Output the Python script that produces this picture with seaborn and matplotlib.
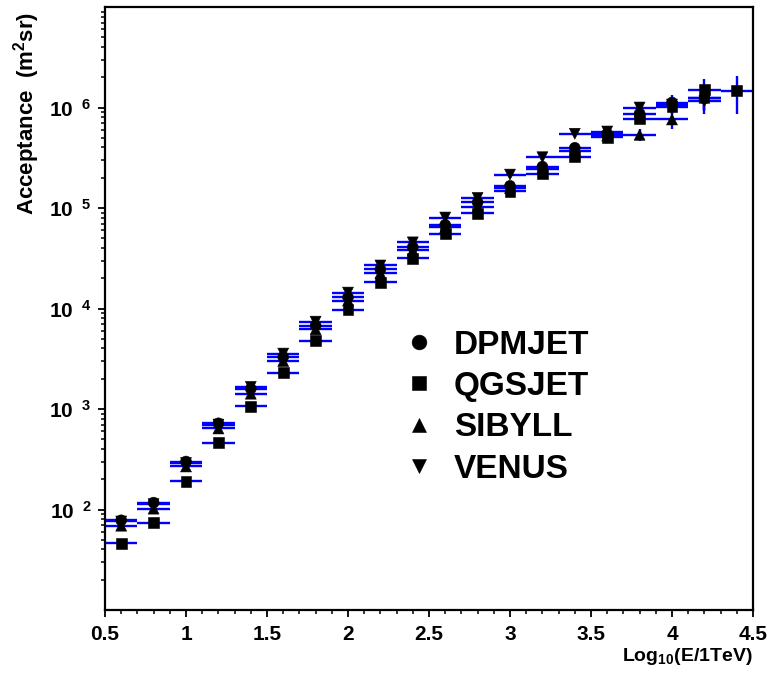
import numpy as np
import pandas as pd
import matplotlib
matplotlib.use("Agg")
import matplotlib.pyplot as plt
import seaborn as sns
from matplotlib.ticker import FixedLocator, LogLocator, MultipleLocator, FuncFormatter, NullFormatter

# log10(E / 1 TeV) bin centres
log_energy = [0.6, 0.8, 1.0, 1.2, 1.4, 1.6, 1.8, 2.0, 2.2, 2.4,
              2.6, 2.8, 3.0, 3.2, 3.4, 3.6, 3.8, 4.0, 4.2, 4.4]
bin_half_width = 0.1

# acceptance (m^2 sr) per hadronic interaction model
dpmjet = [78, 117, 300, 720, 1590, 3300, 6770, 12900, 24500, 40800,
          68000, 114000, 166000, 258000, 397000, 550000, 870000, 1.12e6, 1.23e6]
qgsjet = [46, 74, 190, 463, 1060, 2300, 4800, 9700, 18300, 31700,
          55700, 89000, 147000, 218000, 323000, 505000, 775000, 1.02e6, 1.5e6, 1.47e6]
sibyll = [69, 102, 268, 640, 1420, 3000, 6200, 12000, 22500, 37800,
          64500, 102000, 158000, 245000, 372000, 525000, 535000, 760000, 1.25e6]
venus = [76, 113, 290, 700, 1660, 3560, 7400, 14400, 26800, 45500,
         80400, 126000, 215000, 320000, 548000, 577000, 1.0e6, 1.07e6, 1.16e6]

# statistical uncertainties (m^2 sr)
dpmjet_err = [3, 4, 8, 18, 35, 70, 130, 250, 450, 750,
              1300, 2200, 3500, 6000, 10000, 15000, 40000, 200000, 300000]
qgsjet_err = [2, 3, 6, 13, 25, 50, 100, 200, 350, 600,
              1100, 1800, 3000, 5000, 8000, 14000, 35000, 120000, 400000, 600000]
sibyll_err = [3, 4, 8, 17, 33, 65, 120, 240, 430, 700,
              1200, 2000, 3300, 5500, 9000, 14000, 70000, 150000, 300000]
venus_err = [3, 4, 8, 17, 35, 75, 140, 280, 500, 850,
             1500, 2400, 4000, 7000, 12000, 15000, 80000, 200000, 300000]

models = ["DPMJET", "QGSJET", "SIBYLL", "VENUS"]
values = {"DPMJET": dpmjet, "QGSJET": qgsjet, "SIBYLL": sibyll, "VENUS": venus}
errors = {"DPMJET": dpmjet_err, "QGSJET": qgsjet_err, "SIBYLL": sibyll_err, "VENUS": venus_err}
marker_map = {"DPMJET": "o", "QGSJET": "s", "SIBYLL": "^", "VENUS": "v"}

frames = []
for m in models:
    n = len(values[m])
    frames.append(pd.DataFrame({"logE": log_energy[:n], "acceptance": values[m],
                                "err": errors[m], "model": m}))
df = pd.concat(frames, ignore_index=True)

sns.set_theme(style="ticks")
plt.rcParams.update({
    "font.family": ["Liberation Sans", "DejaVu Sans"],
    "font.weight": "bold",
    "mathtext.fontset": "custom",
    "mathtext.rm": "Liberation Sans:bold",
    "mathtext.bf": "Liberation Sans:bold",
    "mathtext.it": "Liberation Sans:bold",
    "axes.linewidth": 1.6,
    "axes.edgecolor": "black",
    "text.color": "black",
    "axes.labelcolor": "black",
    "xtick.color": "black",
    "ytick.color": "black",
})

fig = plt.figure(figsize=(7.71, 6.73), dpi=100)
ax = fig.add_axes([105 / 771, 63 / 673, 648 / 771, 603 / 673])

for m in models:
    sub = df[df.model == m]
    ax.errorbar(sub.logE, sub.acceptance, xerr=bin_half_width, yerr=sub.err,
                fmt="none", ecolor="#0000ff", elinewidth=1.7, capsize=0, zorder=2)

sns.scatterplot(data=df, x="logE", y="acceptance", style="model", style_order=models,
                markers=marker_map, color="black", edgecolor="black", linewidth=0.4,
                s=62, ax=ax, zorder=3, legend=True)

ax.set_yscale("log")
ax.set_xlim(0.5, 4.5)
ax.set_ylim(10, 1e7)

ax.yaxis.set_major_locator(FixedLocator([1e2, 1e3, 1e4, 1e5, 1e6]))
ax.yaxis.set_minor_locator(LogLocator(base=10, subs=np.arange(2, 10)))
ax.yaxis.set_major_formatter(FuncFormatter(lambda v, p: r"$10^{\ \ %d}$" % round(np.log10(v))))
ax.yaxis.set_minor_formatter(NullFormatter())
ax.xaxis.set_major_locator(MultipleLocator(0.5))
ax.xaxis.set_minor_locator(MultipleLocator(0.1))
ax.xaxis.set_major_formatter(FuncFormatter(lambda v, p: f"{v:g}"))

ax.tick_params(which="major", direction="out", length=5, width=1.3, labelsize=15,
               colors="black", pad=6, top=False, right=False)
ax.tick_params(which="minor", direction="out", length=3, width=1.1, top=False, right=False)
ax.tick_params(axis="y", which="major", pad=5)
for lab in ax.get_xticklabels() + ax.get_yticklabels():
    lab.set_fontweight("bold")

ax.set_xlabel(r"Log$_{10}$(E/1TeV)", fontsize=14, fontweight="bold", loc="right", labelpad=1)
ax.set_ylabel(r"Acceptance  (m$^{2}$sr)", fontsize=16, fontweight="bold", loc="top")
ax.yaxis.set_label_coords(-0.097, 0.992)

handles, labels = ax.get_legend_handles_labels()
pairs = [(h, l) for h, l in zip(handles, labels) if l in models]
leg = ax.legend([p[0] for p in pairs], [p[1] for p in pairs],
                loc="upper left", bbox_to_anchor=(0.459, 0.465), frameon=False,
                prop={"family": "Liberation Sans", "weight": "bold", "size": 24},
                handlelength=1.0, handletextpad=0.55, labelspacing=0.31,
                borderpad=0, borderaxespad=0, markerscale=1.35)
for t in leg.get_texts():
    t.set_color("black")

fig.savefig("out.png", dpi=100)
